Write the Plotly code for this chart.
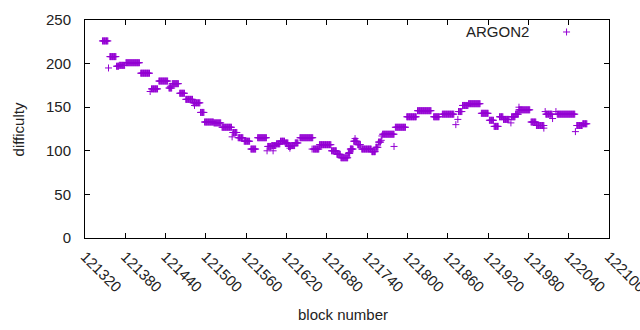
import plotly.graph_objects as go

# Runs of constant difficulty (first block, last block, difficulty)
run_start = [121346, 121357, 121367, 121371, 121381, 121403, 121419, 121430, 121445, 121450,
             121461, 121470, 121481, 121492, 121498, 121512, 121524, 121540, 121548, 121557,
             121567, 121577, 121592, 121598, 121605, 121611, 121618, 121623, 121627, 121633,
             121640, 121660, 121669, 121687, 121695, 121701, 121712, 121715, 121720, 121726,
             121732, 121747, 121753, 121757, 121763, 121782, 121799, 121815, 121839, 121852,
             121876, 121882, 121891, 121910, 121922, 121929, 121937, 121943, 121955, 121961,
             121966, 121984, 121992, 122006, 122023, 122052, 122061]
run_end = [121354, 121366, 121370, 121379, 121401, 121416, 121428, 121443, 121449, 121459,
           121468, 121480, 121491, 121497, 121511, 121522, 121538, 121546, 121555, 121565,
           121574, 121590, 121597, 121604, 121610, 121617, 121622, 121626, 121632, 121637,
           121659, 121668, 121686, 121694, 121700, 121711, 121714, 121719, 121725, 121730,
           121746, 121752, 121756, 121760, 121780, 121797, 121813, 121835, 121847, 121869,
           121881, 121890, 121908, 121920, 121928, 121935, 121942, 121951, 121960, 121965,
           121982, 121991, 122003, 122015, 122049, 122060, 122067]
run_value = [226, 208, 197, 198, 201, 189, 171, 180, 172, 177,
             166, 159, 155, 144, 133, 132, 127, 121, 115, 111,
             102, 115, 105, 106, 108, 111, 109, 105, 106, 109,
             115, 102, 107, 100, 96, 92, 97, 102, 111, 107,
             102, 99, 104, 110, 119, 127, 139, 146, 139, 142,
             145, 152, 154, 143, 135, 128, 139, 136, 139, 142,
             147, 133, 129, 142, 142, 129, 131]

# Isolated blocks
single_block = [121355, 121417, 121447, 121483, 121539, 121591, 121600, 121625, 121658, 121713,
                121716, 121722, 121761, 121762, 121780, 121872, 121875, 121954, 121966, 122003,
                122005, 122016, 122021, 122050]
single_value = [195, 168, 174, 152, 116, 100, 100, 103, 102, 98,
                102, 114, 112, 117, 105, 130, 136, 132, 150, 126,
                145, 137, 145, 122]

x_range = [121320, 122100]
x_tick0, x_dtick = 121320, 60
y_range = [0, 250]
y_dtick = 50

series_name = "ARGON2"
color = "#9400D3"

blocks, values = [], []
for s, e, v in zip(run_start, run_end, run_value):
    for b in range(s, e + 1):
        blocks.append(b)
        values.append(v)
blocks += single_block
values += single_value

FONT = "Liberation Sans, Arial, sans-serif"
FS = 15
TXT = "#222222"

fig = go.Figure()
fig.add_trace(go.Scatter(
    x=blocks, y=values, mode="markers", name=series_name, showlegend=False,
    hoverinfo="skip",
    marker=dict(symbol="cross-thin", size=5, color=color,
                line=dict(width=1, color=color)),
))

axis_common = dict(
    showline=True, linecolor="black", linewidth=1, mirror="ticks",
    ticks="inside", ticklen=5, tickcolor="black", tickwidth=1,
    showgrid=False, zeroline=False, automargin=False,
    ticklabeloverflow="allow",
    tickfont=dict(family=FONT, size=FS, color=TXT),
)

fig.update_layout(
    width=640, height=330,
    margin=dict(l=85, r=31, t=20, b=92),
    paper_bgcolor="white", plot_bgcolor="white",
    font=dict(family=FONT, size=FS, color=TXT),
    xaxis=dict(range=x_range, tick0=x_tick0, dtick=x_dtick, tickangle=45,
               tickformat="d", ticklabelstandoff=3, **axis_common),
    yaxis=dict(range=y_range, dtick=y_dtick, tickformat="d",
               ticklabelstandoff=10, **axis_common),
    annotations=[
        dict(text="difficulty", xref="paper", yref="paper", x=-0.127, y=0.5,
             textangle=-90, showarrow=False, xanchor="center", yanchor="middle",
             font=dict(family=FONT, size=FS, color=TXT)),
        dict(text="block number", xref="paper", yref="paper", x=0.4925, y=-0.35,
             showarrow=False, xanchor="center", yanchor="middle",
             font=dict(family=FONT, size=FS, color=TXT)),
        dict(text=series_name, xref="paper", yref="paper", x=0.851, y=0.945,
             showarrow=False, xanchor="right", yanchor="middle",
             font=dict(family=FONT, size=FS, color=TXT)),
    ],
    shapes=[
        dict(type="line", xref="paper", yref="paper", xsizemode="pixel", ysizemode="pixel",
             xanchor=0.919, yanchor=0.945, x0=-3.5, x1=3.5, y0=0, y1=0,
             line=dict(color=color, width=1)),
        dict(type="line", xref="paper", yref="paper", xsizemode="pixel", ysizemode="pixel",
             xanchor=0.919, yanchor=0.945, x0=0, x1=0, y0=-3.5, y1=3.5,
             line=dict(color=color, width=1)),
    ],
)

fig.write_html("out.html", config={"displayModeBar": False},
               post_script="document.body.style.margin='0';document.body.style.overflow='hidden';")
